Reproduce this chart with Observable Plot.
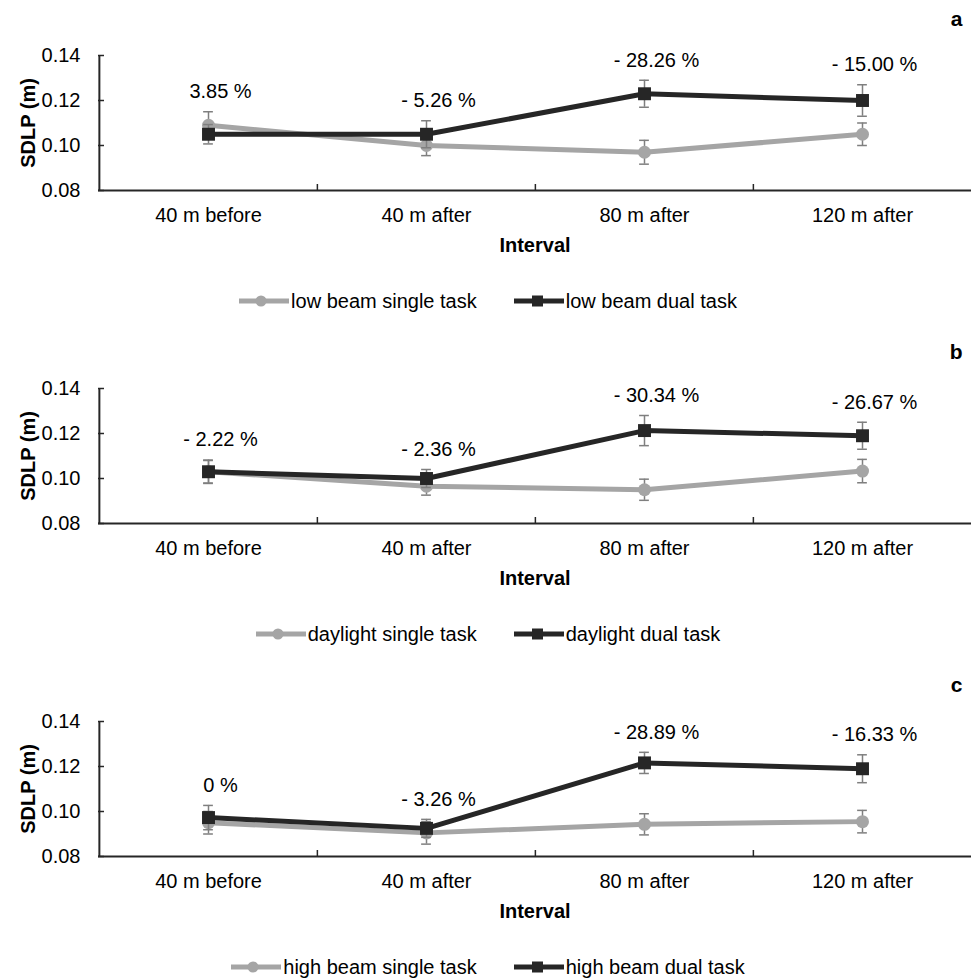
<!DOCTYPE html>
<html>
<head>
<meta charset="utf-8">
<script src="https://cdn.jsdelivr.net/npm/d3@7"></script>
<script src="https://cdn.jsdelivr.net/npm/@observablehq/plot@0.6"></script>
<style>
  html, body { margin: 0; padding: 0; background: #fff; }
  body { width: 976px; font-family: "Liberation Sans", Arial, sans-serif; color: #000; }
  .panel { position: relative; width: 976px; height: 333px; }
  .legend { position: relative; height: 68px; display: flex; justify-content: center; align-items: center; gap: 37px; font-size: 20px; padding-top: 4px; box-sizing: border-box; }
  .legend .item { display: flex; align-items: center; }
  .legend svg { display: block; margin-right: 2px; }
</style>
</head>
<body>
<div id="chart"></div>
<script>
// ---- data ----
const categories = ["40 m before", "40 m after", "80 m after", "120 m after"];
const yTicks = [0.08, 0.10, 0.12, 0.14];
const panelLetters = ["a", "b", "c"];

const singleA = [0.109, 0.100, 0.097, 0.105];
const singleErrA = [0.006, 0.0045, 0.0053, 0.005];
const dualA = [0.105, 0.105, 0.123, 0.120];
const dualErrA = [0.0043, 0.006, 0.006, 0.007];
const labelsA = ["3.85 %", "- 5.26 %", "- 28.26 %", "- 15.00 %"];
const legendA = ["low beam single task", "low beam dual task"];

const singleB = [0.103, 0.0966, 0.095, 0.1033];
const singleErrB = [0.005, 0.004, 0.0047, 0.0052];
const dualB = [0.103, 0.100, 0.1213, 0.119];
const dualErrB = [0.0052, 0.004, 0.0067, 0.006];
const labelsB = ["- 2.22 %", "- 2.36 %", "- 30.34 %", "- 26.67 %"];
const legendB = ["daylight single task", "daylight dual task"];

const singleC = [0.095, 0.0905, 0.0943, 0.0955];
const singleErrC = [0.005, 0.005, 0.0047, 0.005];
const dualC = [0.0973, 0.0925, 0.1216, 0.119];
const dualErrC = [0.0054, 0.004, 0.0047, 0.0062];
const labelsC = ["0 %", "- 3.26 %", "- 28.89 %", "- 16.33 %"];
const legendC = ["high beam single task", "high beam dual task"];

// ---- styles ----
const GRAY = "#a5a5a5";
const DARK = "#262626";
const ERR = "#7f7f7f";
const W = 976, H = 265, ML = 98, MR = 5, MT = 55, MB = 75;
const frameW = W - ML - MR;
const frameH = H - MT - MB;
const bw = frameW / categories.length;

function makePanel(letter, single, singleErr, dual, dualErr, labels, legendNames) {
  const rows = categories.map((c, i) => ({
    cat: c,
    s: single[i], se: singleErr[i],
    d: dual[i], de: dualErr[i],
    label: labels[i],
    top: Math.max(single[i] + singleErr[i], dual[i] + dualErr[i])
  }));
  const capInset = (bw - 10) / 2;
  const plot = Plot.plot({
    width: W, height: H,
    marginLeft: ML, marginRight: MR, marginTop: MT, marginBottom: MB,
    style: { fontFamily: "'Liberation Sans', Arial, sans-serif", fontSize: "20px", color: "#000", background: "#fff", overflow: "visible" },
    x: { type: "band", domain: categories, padding: 0, label: null, tickSize: 0, tickPadding: 17 },
    y: { domain: [0.08, 0.14], ticks: yTicks, tickFormat: d => d.toFixed(2), label: null, tickSize: 0, tickPadding: 18 },
    marks: [
      // axis lines
      Plot.ruleY([0.08], { stroke: DARK, strokeWidth: 2 }),
      Plot.ruleX([categories[0]], { dx: -bw / 2, stroke: DARK, strokeWidth: 2 }),
      // inward y ticks
      Plot.ruleY(yTicks, { stroke: DARK, strokeWidth: 1.5, insetRight: frameW - 6 }),
      // category boundary ticks
      Plot.ruleX(categories.slice(1), { dx: -bw / 2, stroke: DARK, strokeWidth: 1.5, insetTop: frameH - 6 }),
      // single task series
      Plot.ruleX(rows, { x: "cat", y1: d => d.s - d.se, y2: d => d.s + d.se, stroke: ERR, strokeWidth: 1.5 }),
      Plot.tickY(rows, { x: "cat", y: d => d.s + d.se, stroke: ERR, strokeWidth: 1.5, insetLeft: capInset, insetRight: capInset }),
      Plot.tickY(rows, { x: "cat", y: d => d.s - d.se, stroke: ERR, strokeWidth: 1.5, insetLeft: capInset, insetRight: capInset }),
      Plot.line(rows, { x: "cat", y: "s", stroke: GRAY, strokeWidth: 5 }),
      Plot.dot(rows, { x: "cat", y: "s", r: 6.5, fill: GRAY, stroke: null }),
      // dual task series
      Plot.ruleX(rows, { x: "cat", y1: d => d.d - d.de, y2: d => d.d + d.de, stroke: ERR, strokeWidth: 1.5 }),
      Plot.tickY(rows, { x: "cat", y: d => d.d + d.de, stroke: ERR, strokeWidth: 1.5, insetLeft: capInset, insetRight: capInset }),
      Plot.tickY(rows, { x: "cat", y: d => d.d - d.de, stroke: ERR, strokeWidth: 1.5, insetLeft: capInset, insetRight: capInset }),
      Plot.line(rows, { x: "cat", y: "d", stroke: DARK, strokeWidth: 5 }),
      Plot.dot(rows, { x: "cat", y: "d", r: 7.3, symbol: "square", fill: DARK, stroke: null }),
      // percentage annotations
      Plot.text(rows, { x: "cat", y: "top", text: "label", dy: -20, dx: 12, fontSize: 20, fill: "#000" }),
      // axis titles
      Plot.text(["SDLP (m)"], { frameAnchor: "left", rotate: -90, dx: -70, textAnchor: "middle", lineAnchor: "middle", fontWeight: "bold", fontSize: 20, fill: "#000" }),
      Plot.text(["Interval"], { frameAnchor: "bottom", dy: 55, textAnchor: "middle", lineAnchor: "middle", fontWeight: "bold", fontSize: 20, fill: "#000" }),
      // panel letter
      Plot.text([letter], { frameAnchor: "top-right", dx: -9, dy: -44, fontWeight: "bold", fontSize: 21, fill: "#000" })
    ]
  });

  const panel = document.createElement("div");
  panel.className = "panel";
  panel.appendChild(plot);

  const legend = document.createElement("div");
  legend.className = "legend";
  const ns = "http://www.w3.org/2000/svg";
  legendNames.forEach((name, i) => {
    const item = document.createElement("div");
    item.className = "item";
    const svg = document.createElementNS(ns, "svg");
    svg.setAttribute("width", 50);
    svg.setAttribute("height", 20);
    const line = document.createElementNS(ns, "line");
    line.setAttribute("x1", 0); line.setAttribute("x2", 50);
    line.setAttribute("y1", 10); line.setAttribute("y2", 10);
    line.setAttribute("stroke", i === 0 ? GRAY : DARK);
    line.setAttribute("stroke-width", 5);
    svg.appendChild(line);
    if (i === 0) {
      const c = document.createElementNS(ns, "circle");
      c.setAttribute("cx", 22); c.setAttribute("cy", 10); c.setAttribute("r", 5.5);
      c.setAttribute("fill", GRAY);
      svg.appendChild(c);
    } else {
      const r = document.createElementNS(ns, "rect");
      r.setAttribute("x", 18); r.setAttribute("y", 4.5); r.setAttribute("width", 11); r.setAttribute("height", 11);
      r.setAttribute("fill", DARK);
      svg.appendChild(r);
    }
    item.appendChild(svg);
    const span = document.createElement("span");
    span.textContent = name;
    item.appendChild(span);
    legend.appendChild(item);
  });
  panel.appendChild(legend);
  return panel;
}

const chart = document.getElementById("chart");
chart.appendChild(makePanel(panelLetters[0], singleA, singleErrA, dualA, dualErrA, labelsA, legendA));
chart.appendChild(makePanel(panelLetters[1], singleB, singleErrB, dualB, dualErrB, labelsB, legendB));
chart.appendChild(makePanel(panelLetters[2], singleC, singleErrC, dualC, dualErrC, labelsC, legendC));
</script>
</body>
</html>
